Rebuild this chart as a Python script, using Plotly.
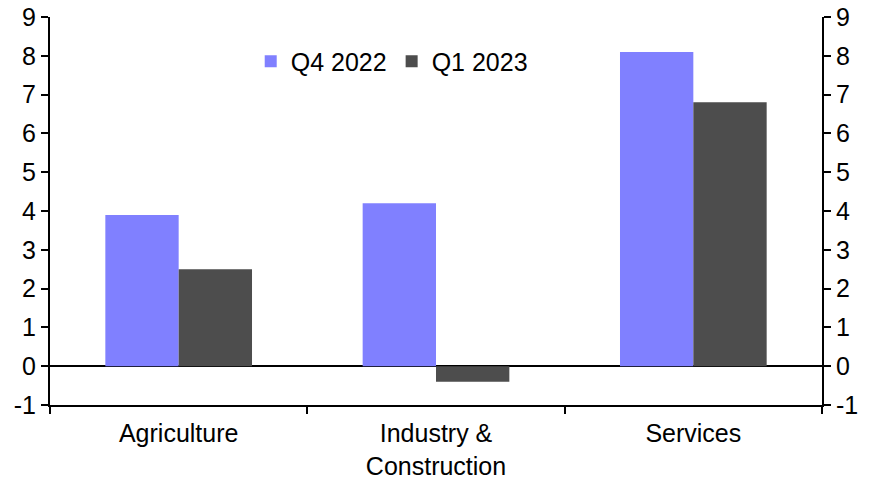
import plotly.graph_objects as go

categories = ["Agriculture", "Industry &<br>Construction", "Services"]
q4_2022 = [3.9, 4.2, 8.1]
q1_2023 = [2.5, -0.4, 6.8]
y_ticks = [-1, 0, 1, 2, 3, 4, 5, 6, 7, 8, 9]
y_tick_labels = ["-1", "0", "1", "2", "3", "4", "5", "6", "7", "8", "9"]

font = dict(family="Liberation Sans, Arial, sans-serif", size=25, color="black")

fig = go.Figure()
fig.add_trace(go.Bar(x=categories, y=q4_2022, name="Q4 2022", marker=dict(color="#8080FF", line=dict(width=0))))
fig.add_trace(go.Bar(x=categories, y=q1_2023, name="Q1 2023", marker=dict(color="#4D4D4D", line=dict(width=0))))
fig.add_trace(go.Scatter(x=categories, y=q4_2022, yaxis="y2", mode="none", showlegend=False, hoverinfo="skip"))

fig.update_layout(
    width=879, height=480,
    margin=dict(l=50, r=57, t=17, b=75),
    paper_bgcolor="white", plot_bgcolor="white",
    font=font,
    barmode="group", bargap=0.43, bargroupgap=0,
    showlegend=True,
    legend=dict(orientation="h", x=0.26, y=0.885, xanchor="left", yanchor="middle",
                font=font, bgcolor="rgba(0,0,0,0)", itemwidth=30),
    xaxis=dict(type="category", showline=True, linecolor="black", linewidth=2,
               ticks="outside", tickson="boundaries", ticklen=7, tickwidth=2, tickcolor="black",
               showgrid=False, zeroline=False, tickfont=font, automargin=False,
               ticklabelstandoff=5),
    yaxis=dict(range=[-1, 9], tickvals=y_ticks, ticktext=y_tick_labels, showline=True,
               linecolor="black", linewidth=2,
               ticks="outside", ticklen=7, tickwidth=2, tickcolor="black",
               showgrid=False, zeroline=True, zerolinecolor="black", zerolinewidth=2,
               tickfont=font, automargin=False, ticklabeloverflow="allow"),
    yaxis2=dict(range=[-1, 9], tickvals=y_ticks, ticktext=y_tick_labels, overlaying="y",
                side="right", showline=True,
                linecolor="black", linewidth=2, ticks="outside", ticklen=7, tickwidth=2,
                tickcolor="black", showgrid=False, zeroline=False, tickfont=font,
                automargin=False, ticklabeloverflow="allow"),
)

fig.write_html("out.html", config={"displayModeBar": False},
               post_script="document.body.style.margin='0';")
